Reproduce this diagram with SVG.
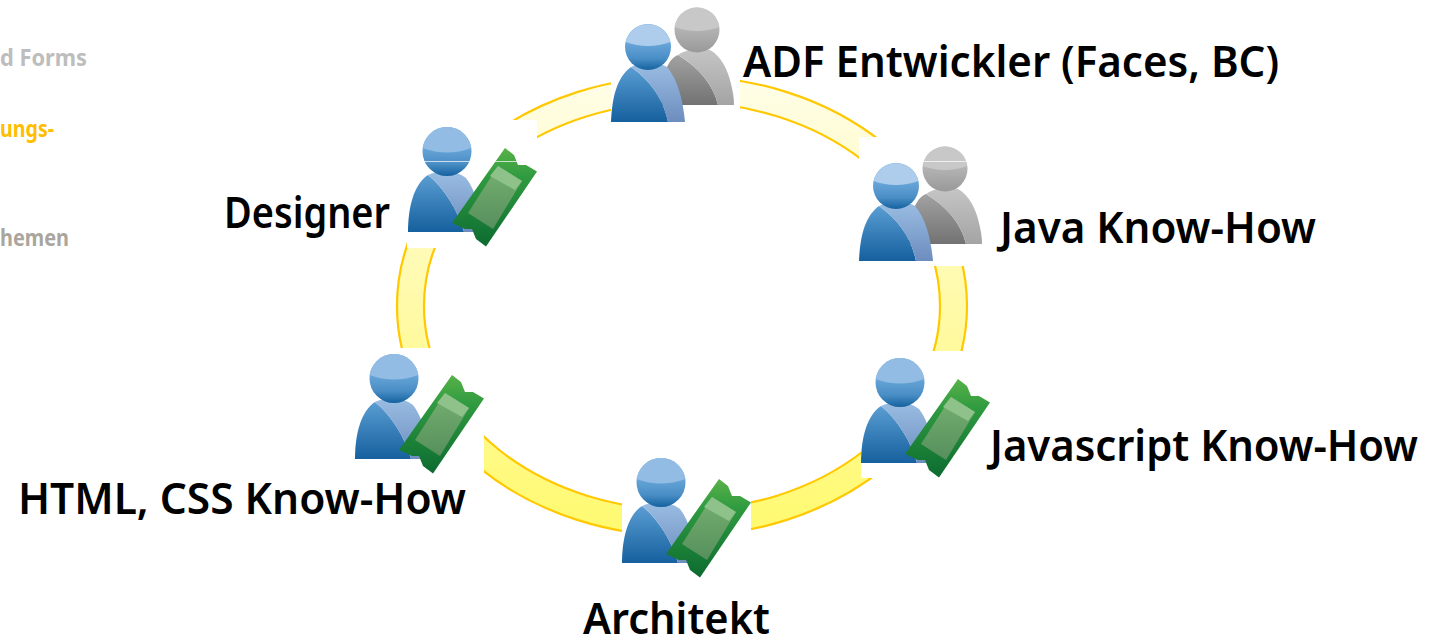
<svg xmlns="http://www.w3.org/2000/svg" xmlns:xlink="http://www.w3.org/1999/xlink" width="1432" height="637" viewBox="0 0 1432 637">
<style>
text{font-family:"Noto Sans","Open Sans","Liberation Sans",sans-serif;font-weight:600}
.l{font-size:43px;fill:#000}
.s{font-size:23px;font-weight:700}
.ring{fill:url(#ringG);fill-rule:evenodd;stroke:#ffc800;stroke-width:2.2}
.w{fill:#fff}
.seam{fill:#fff;opacity:.7}
</style>
<defs>
<linearGradient id="ringG" gradientUnits="userSpaceOnUse" x1="0" y1="80" x2="0" y2="530"><stop offset="0" stop-color="#fffee8"/><stop offset=".5" stop-color="#fffaa8"/><stop offset="1" stop-color="#fffa70"/></linearGradient>
<linearGradient id="bd" x1="0" y1="0" x2="0" y2="1"><stop offset="0" stop-color="#5a9dd2"/><stop offset="1" stop-color="#15609e"/></linearGradient>
<linearGradient id="bs" x1="0" y1="0" x2="0" y2="1"><stop offset="0" stop-color="#9abde3"/><stop offset="1" stop-color="#6c8dbe"/></linearGradient>
<linearGradient id="bh" x1="0" y1="0" x2="0" y2="1"><stop offset=".4" stop-color="#6aa7da"/><stop offset=".75" stop-color="#4a8ec6"/><stop offset="1" stop-color="#14629f"/></linearGradient>
<linearGradient id="gd" x1="0" y1="0" x2="0" y2="1"><stop offset="0" stop-color="#a2a2a2"/><stop offset="1" stop-color="#727272"/></linearGradient>
<linearGradient id="gs" x1="0" y1="0" x2="0" y2="1"><stop offset="0" stop-color="#c6c5c5"/><stop offset="1" stop-color="#a5a4a4"/></linearGradient>
<linearGradient id="gh" x1="0" y1="0" x2="0" y2="1"><stop offset=".3" stop-color="#bdbcbc"/><stop offset="1" stop-color="#9a9999"/></linearGradient>
<linearGradient id="tk" x1="0" y1="0" x2="0" y2="1"><stop offset="0" stop-color="#58b248"/><stop offset=".3" stop-color="#2f9a40"/><stop offset="1" stop-color="#0c6b30"/></linearGradient>
<linearGradient id="ti" x1="0" y1="0" x2="0" y2="1"><stop offset="0" stop-color="#76b070"/><stop offset="1" stop-color="#568f5c"/></linearGradient>
<g id="bluebody">
<path fill="url(#bd)" d="M0,0C1,-25 6,-45 20,-55C38,-42 52,-25 57,0Z"/>
<path fill="url(#bs)" d="M20,-55C30,-60 48,-60 56,-55C67,-42 72,-22 74,0L57,0C52,-25 38,-42 20,-55Z"/>
</g>
<g id="pair">
<path fill="url(#gd)" d="M50,-17C50,-38 54,-52 57,-57C60,-63 64,-66 67,-67C88,-54 102,-38 107,-17Z"/>
<path fill="url(#gs)" d="M67,-67C78,-74 90,-74 99,-72C110,-66 117,-52 120,-38C122,-30 123,-24 123,-17L107,-17C102,-38 88,-54 67,-67Z"/>
<circle cx="86" cy="-92" r="22.500" fill="url(#gh)"/>
<path fill="#c9c8c8" d="M63.700,-95A22.500,22.500 0 0 1 108.300,-95Q86,-87 63.700,-95Z"/>
<use xlink:href="#bluebody" href="#bluebody"/>
<circle cx="37" cy="-75" r="23" fill="url(#bh)"/>
<path fill="#aecdec" d="M14.600,-80A23,23 0 0 1 59.400,-80Q37,-72 14.600,-80Z"/>
</g>
<g id="ticketman">
<path fill="url(#bd)" d="M0,0C0,-25 6,-48 20,-57C36,-44 50,-22 56,0Z"/>
<path fill="url(#bs)" d="M20,-57C30,-62 48,-62 58,-54C68,-42 72,-20 74,0L56,0C50,-22 36,-44 20,-57Z"/>
<circle cx="39" cy="-80.500" r="24.500" fill="url(#bh)"/>
<path fill="#92bce4" d="M14.750,-84A24.500,24.500 0 0 1 63.250,-84Q39,-75 14.750,-84Z"/>
<path fill="url(#tk)" d="M97,-84L106,-77L110,-67L118,-67L129,-60.500L78,14.500L68,7L64,-3L57,-3L44,-9Z"/>
<path fill="url(#ti)" d="M90,-66L114,-51L85,-3L60,-19Z"/>
<path fill="#8fc28a" d="M90,-66L114,-51L107,-42L82,-56Z"/>
</g>
</defs>
<g id="sidebar">
<text class="s" x="0" y="66" textLength="87" lengthAdjust="spacingAndGlyphs" fill="#bdbdbd">d Forms</text>
<text class="s" x="0" y="137" textLength="54" lengthAdjust="spacingAndGlyphs" fill="#ffbe00">ungs-</text>
<text class="s" x="0" y="246" textLength="69" lengthAdjust="spacingAndGlyphs" fill="#aaa69d">hemen</text>
</g>
<g id="connectors">
<path class="ring" d="M397,306A285,230 0 1 1 967,306A285,230 0 1 1 397,306ZM424,306A258,204 0 1 0 940,306A258,204 0 1 0 424,306Z"/>
</g>
<g id="node-adf">
<rect class="w" x="611" y="0" width="129" height="123"/>
<use xlink:href="#pair" href="#pair" x="611" y="122"/>
<text class="l" x="743" y="77" textLength="536" lengthAdjust="spacingAndGlyphs">ADF Entwickler (Faces, BC)</text>
</g>
<g id="node-java">
<rect class="w" x="859" y="137" width="130" height="129"/>
<use xlink:href="#pair" href="#pair" x="859" y="261"/>
<rect class="seam" x="859" y="161" width="125" height="1"/>
<text class="l" x="1000" y="243" textLength="316" lengthAdjust="spacingAndGlyphs">Java Know-How</text>
</g>
<g id="node-javascript">
<rect class="w" x="861" y="351" width="129" height="127"/>
<use xlink:href="#ticketman" href="#ticketman" x="861" y="463"/>
<text class="l" x="990" y="461" textLength="428" lengthAdjust="spacingAndGlyphs">Javascript Know-How</text>
</g>
<g id="node-architekt">
<rect class="w" x="622" y="455" width="129" height="125"/>
<use xlink:href="#ticketman" href="#ticketman" x="622" y="563"/>
<text class="l" x="583" y="634" textLength="187" lengthAdjust="spacingAndGlyphs">Architekt</text>
</g>
<g id="node-html">
<rect class="w" x="355" y="348" width="129" height="130"/>
<use xlink:href="#ticketman" href="#ticketman" x="355" y="459"/>
<text class="l" x="18" y="514" textLength="448" lengthAdjust="spacingAndGlyphs">HTML, CSS Know-How</text>
</g>
<g id="node-designer">
<rect class="w" x="407" y="120" width="130" height="128"/>
<use xlink:href="#ticketman" href="#ticketman" x="408" y="232"/>
<rect class="seam" x="408" y="161" width="124" height="1"/>
<text class="l" x="224" y="228" textLength="166" lengthAdjust="spacingAndGlyphs">Designer</text>
</g>
</svg>
